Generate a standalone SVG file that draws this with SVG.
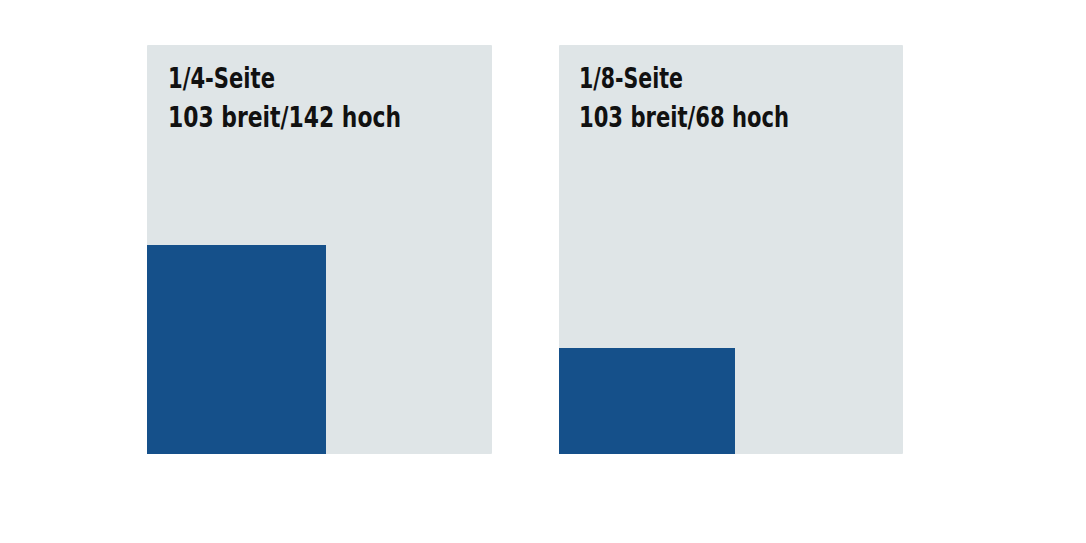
<svg xmlns="http://www.w3.org/2000/svg" width="1086" height="543" viewBox="0 0 1086 543">
<style>
.panel{fill:#dfe5e7}
.ad{fill:#15508a}
.t{font-family:"DejaVu Sans Condensed","Liberation Sans",sans-serif;font-weight:bold;font-stretch:condensed;font-size:28px;fill:#111}
</style>
<rect width="1086" height="543" fill="#fff"/>
<g id="quarter">
<rect class="panel" x="147" y="45" width="345" height="409" rx="1"/>
<rect class="ad" x="147" y="245" width="179" height="209"/>
<text class="t" x="168" y="88" textLength="107" lengthAdjust="spacingAndGlyphs">1/4-Seite</text>
<text class="t" x="168" y="127" textLength="233" lengthAdjust="spacingAndGlyphs">103 breit/142 hoch</text>
</g>
<g id="eighth">
<rect class="panel" x="559" y="45" width="344" height="409" rx="1"/>
<rect class="ad" x="559" y="348" width="176" height="106"/>
<text class="t" x="579" y="88" textLength="104" lengthAdjust="spacingAndGlyphs">1/8-Seite</text>
<text class="t" x="579" y="127" textLength="210" lengthAdjust="spacingAndGlyphs">103 breit/68 hoch</text>
</g>
<g id="connectors"/>
</svg>
